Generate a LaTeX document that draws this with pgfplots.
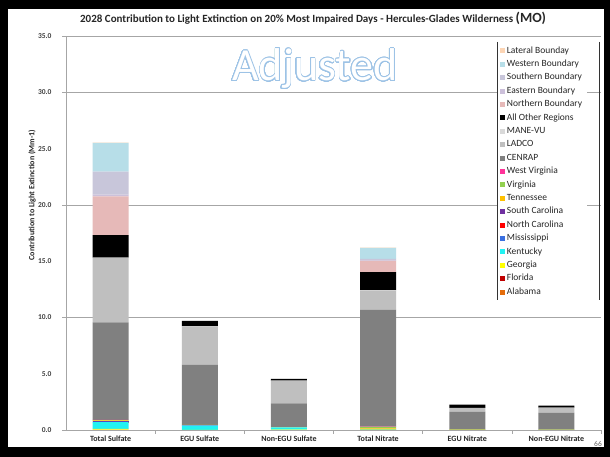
\documentclass[border=0pt]{standalone}
\usepackage{pgfplots}
\usepackage{pgfplotstable}
\usepackage{fontspec}
\usepackage{contour}
\pgfplotsset{compat=1.18}
\setmainfont{Carlito}

\definecolor{cAL}{HTML}{E46C0A}
\definecolor{cFL}{HTML}{C00000}
\definecolor{cGA}{HTML}{FFFF00}
\definecolor{cKY}{HTML}{22F2F2}
\definecolor{cMS}{HTML}{3A6FE0}
\definecolor{cNC}{HTML}{FF0000}
\definecolor{cSC}{HTML}{7030A0}
\definecolor{cTN}{HTML}{FFC000}
\definecolor{cVA}{HTML}{92D050}
\definecolor{cWV}{HTML}{FF3399}
\definecolor{cCENRAP}{HTML}{808080}
\definecolor{cLADCO}{HTML}{BFBFBF}
\definecolor{cMANEVU}{HTML}{D9D9D9}
\definecolor{cOther}{HTML}{000000}
\definecolor{cNorth}{HTML}{E6B9B8}
\definecolor{cEast}{HTML}{CCC0DA}
\definecolor{cSouth}{HTML}{C8C6DA}
\definecolor{cWest}{HTML}{B7DEE8}
\definecolor{cLat}{HTML}{FCD5B5}
\definecolor{gridgray}{HTML}{A6A6A6}
\definecolor{adjblue}{HTML}{9DC3E6}

% one row per category, one column per source region (Mm-1)
\pgfplotstableread{
x AL FL GA KY MS NC SC TN VA WV CENRAP LADCO MANEVU Other North East South West Lat
0 0.02 0.01 0.06 0.62 0.03 0.01 0.01 0.10 0.02 0.03 8.65 5.70 0.05 2.00 3.45 0.15 2.05 2.55 0.02
1 0.00 0.00 0.01 0.38 0.05 0.00 0.00 0.01 0.00 0.00 5.35 3.40 0.02 0.47 0.00 0.00 0.00 0.00 0.00
2 0.00 0.00 0.03 0.20 0.00 0.00 0.00 0.02 0.00 0.00 2.12 2.00 0.02 0.15 0.00 0.00 0.00 0.00 0.00
3 0.01 0.00 0.02 0.04 0.01 0.00 0.00 0.06 0.14 0.02 10.40 1.69 0.03 1.60 1.00 0.05 0.14 0.97 0.01
4 0.00 0.00 0.01 0.00 0.00 0.00 0.00 0.01 0.01 0.00 1.60 0.32 0.01 0.30 0.00 0.00 0.00 0.00 0.00
5 0.00 0.00 0.00 0.00 0.00 0.00 0.00 0.01 0.03 0.00 1.50 0.44 0.00 0.18 0.00 0.00 0.00 0.00 0.00
}\datatable

\begin{document}
\begin{tikzpicture}[x=1pt,y=1pt]
\fill[black] (0,0) rectangle (610,457);
\fill[white] (8,10) rectangle (604,448);
\path[use as bounding box] (0,0) rectangle (610,457);

\node[font=\fontsize{11}{13}\selectfont\bfseries, text=black!85] at (313,439)
  {2028 Contribution to Light Extinction on 20\% Most Impaired Days - Hercules-Glades Wilderness {\fontsize{14}{15}\selectfont(MO)}};

\begin{axis}[
  at={(66pt,27pt)}, anchor=south west,
  scale only axis, width=535pt, height=394pt,
  ybar stacked, bar width=36pt,
  xmin=-0.5, xmax=5.5, ymin=0, ymax=35,
  axis x line*=bottom, axis y line*=left,
  axis line style={-, draw=gridgray, line width=0.6pt},
  xtick={0,...,5},
  xticklabels={Total Sulfate, EGU Sulfate, Non-EGU Sulfate, Total Nitrate, EGU Nitrate, Non-EGU Nitrate},
  minor xtick={0.5,1.5,2.5,3.5,4.5,5.5},
  tick align=outside,
  major tick length=0pt, minor tick length=4pt,
  tick style={draw=gridgray, line width=0.6pt},
  ytick={0,5,...,35},
  extra y ticks={0,10,20,30,35},
  extra y tick labels={},
  extra y tick style={major tick length=4pt, grid=major},
  major grid style={draw=gridgray, line width=0.6pt},
  yticklabel style={font=\fontsize{7.5}{9}\selectfont\bfseries, text=black!75, xshift=-11pt},
  xticklabel style={font=\fontsize{8}{10}\selectfont\bfseries, text=black!85, yshift=-2pt},
  /pgf/number format/assume math mode=true,
  y tick label style={/pgf/number format/.cd, fixed, fixed zerofill, precision=1},
  reverse legend,
  legend cell align=left,
  legend style={at={(rel axis cs:0.806,0.985)}, anchor=north west,
    draw=none, fill=white, font=\fontsize{9.5}{11}\selectfont, text=black!85,
    row sep=3.9pt, inner xsep=3pt, inner ysep=4pt,
    nodes={inner ysep=0pt, inner xsep=1.5pt, text height=7pt, text depth=2.5pt}},
  legend image code/.code={\fill[#1] (0pt,-2.5pt) rectangle (5pt,2.5pt);},
]
\addplot[fill=cAL, draw=none] table[x=x, y=AL] {\datatable};
\addplot[fill=cFL, draw=none] table[x=x, y=FL] {\datatable};
\addplot[fill=cGA, draw=none] table[x=x, y=GA] {\datatable};
\addplot[fill=cKY, draw=none] table[x=x, y=KY] {\datatable};
\addplot[fill=cMS, draw=none] table[x=x, y=MS] {\datatable};
\addplot[fill=cNC, draw=none] table[x=x, y=NC] {\datatable};
\addplot[fill=cSC, draw=none] table[x=x, y=SC] {\datatable};
\addplot[fill=cTN, draw=none] table[x=x, y=TN] {\datatable};
\addplot[fill=cVA, draw=none] table[x=x, y=VA] {\datatable};
\addplot[fill=cWV, draw=none] table[x=x, y=WV] {\datatable};
\addplot[fill=cCENRAP, draw=none] table[x=x, y=CENRAP] {\datatable};
\addplot[fill=cLADCO, draw=none] table[x=x, y=LADCO] {\datatable};
\addplot[fill=cMANEVU, draw=none] table[x=x, y=MANEVU] {\datatable};
\addplot[fill=cOther, draw=none] table[x=x, y=Other] {\datatable};
\addplot[fill=cNorth, draw=none] table[x=x, y=North] {\datatable};
\addplot[fill=cEast, draw=none] table[x=x, y=East] {\datatable};
\addplot[fill=cSouth, draw=none] table[x=x, y=South] {\datatable};
\addplot[fill=cWest, draw=none] table[x=x, y=West] {\datatable};
\addplot[fill=cLat, draw=none] table[x=x, y=Lat] {\datatable};
\legend{Alabama, Florida, Georgia, Kentucky, Mississippi, North Carolina,
  South Carolina, Tennessee, Virginia, West Virginia, CENRAP, LADCO, MANE-VU,
  All Other Regions, Northern Boundary, Eastern Boundary, Southern Boundary,
  Western Boundary, Lateral Bounday}
\end{axis}

% legend frame sides
\draw[black!80, line width=0.7pt] (497,415) -- (497,157);
\draw[black!80, line width=0.7pt] (599,415) -- (599,157);

% watermark
\contourlength{0.7pt}
\contournumber{40}
\node[font=\fontsize{46}{50}\selectfont, text=white] at (315,388) {\contour{adjblue}{Adjusted}};

\node[font=\bfseries\fontsize{8}{10}\selectfont, rotate=90, text=black!85] at (32,262)
  {Contribution to Light Extinction (Mm-1)};
\node[font=\fontsize{7.5}{9}\selectfont, text=black!60] at (598,13) {66};
\end{tikzpicture}
\end{document}
